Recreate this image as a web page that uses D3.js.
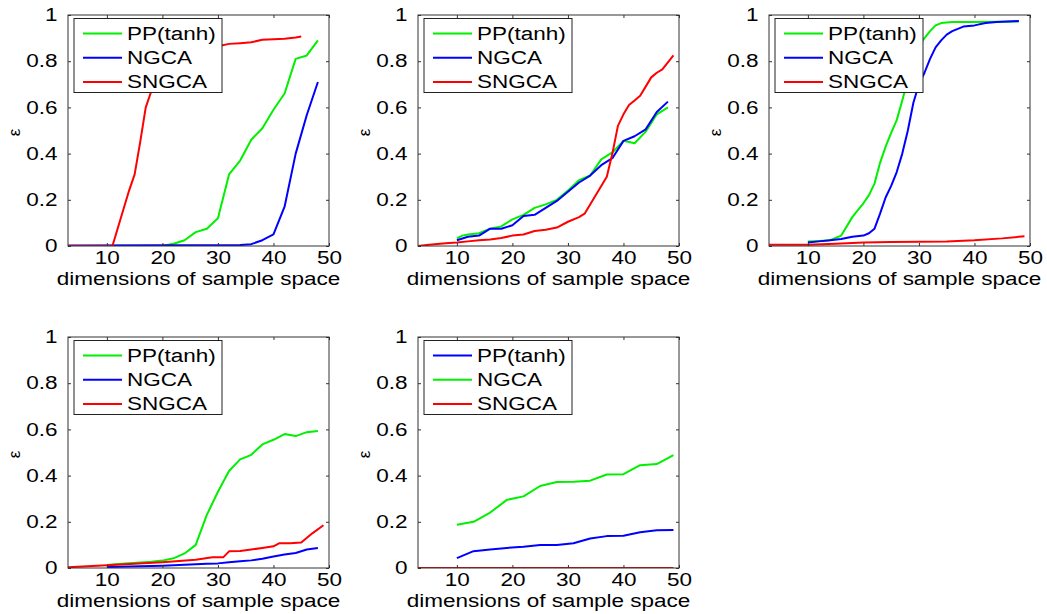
<!DOCTYPE html>
<html>
<head>
<meta charset="utf-8">
<script src="https://cdn.jsdelivr.net/npm/d3@7"></script>
<style>
  body { margin: 0; background: #fff; }
  text { font-family: "Liberation Sans", Arial, sans-serif; fill: #000; }
</style>
</head>
<body>
<script>
const xTicks = [10, 20, 30, 40, 50];
const yTicks = [0, 0.2, 0.4, 0.6, 0.8, 1];
const legendLabels = ["PP(tanh)", "NGCA", "SNGCA"];
const xLabel = "dimensions of sample space";
const yLabel = "ε";

// panel 1 (top left)
const p1PP = [[3, 0], [20, 0], [22, 0.01], [24, 0.025], [26, 0.06], [28, 0.075], [30, 0.12], [32, 0.31], [34, 0.37], [36, 0.46], [38, 0.51], [40, 0.59], [42, 0.66], [44, 0.81], [46, 0.825], [48, 0.89]];
const p1NGCA = [[3, 0.002], [34, 0.004], [36, 0.008], [38, 0.025], [40, 0.05], [42, 0.17], [44, 0.4], [46, 0.567], [48, 0.71]];
const p1SNGCA = [[3, 0], [11, 0], [12, 0.08], [13, 0.16], [14, 0.24], [15, 0.31], [16, 0.45], [17, 0.6], [18, 0.67], [19, 0.73], [20, 0.78], [21, 0.82], [22, 0.84], [24, 0.85], [26, 0.855], [28, 0.86], [30, 0.865], [32, 0.875], [34, 0.878], [36, 0.882], [38, 0.893], [40, 0.895], [42, 0.897], [44, 0.903], [45, 0.907]];

// panel 2 (top middle)
const p2PP = [[10, 0.033], [11, 0.045], [12, 0.05], [14, 0.055], [16, 0.075], [18, 0.085], [20, 0.115], [22, 0.135], [24, 0.165], [26, 0.18], [28, 0.2], [30, 0.24], [32, 0.285], [34, 0.305], [36, 0.375], [38, 0.405], [40, 0.455], [41, 0.45], [42, 0.445], [44, 0.495], [46, 0.57], [48, 0.6]];
const p2NGCA = [[10, 0.025], [12, 0.04], [14, 0.045], [16, 0.075], [18, 0.075], [20, 0.09], [22, 0.13], [24, 0.135], [26, 0.165], [28, 0.195], [30, 0.235], [32, 0.275], [34, 0.305], [36, 0.35], [38, 0.38], [40, 0.455], [42, 0.475], [44, 0.505], [46, 0.58], [48, 0.625]];
const p2SNGCA = [[3, 0], [5, 0.005], [8, 0.012], [10, 0.015], [12, 0.02], [14, 0.025], [16, 0.028], [18, 0.035], [20, 0.045], [22, 0.05], [24, 0.065], [26, 0.07], [28, 0.08], [30, 0.105], [32, 0.125], [33, 0.14], [35, 0.22], [37, 0.3], [38, 0.4], [39, 0.52], [40, 0.57], [41, 0.61], [42, 0.63], [43, 0.65], [44, 0.69], [45, 0.73], [46, 0.75], [47, 0.765], [48, 0.795], [49, 0.825]];

// panel 3 (top right)
const p3PP = [[10, 0.02], [12, 0.022], [14, 0.025], [16, 0.045], [17, 0.085], [18, 0.125], [19, 0.155], [20, 0.185], [21, 0.22], [22, 0.27], [23, 0.36], [24, 0.43], [25, 0.49], [26, 0.545], [27, 0.63], [28, 0.72], [29, 0.81], [30, 0.87], [31, 0.9], [32, 0.93], [33, 0.955], [34, 0.965], [35, 0.968], [36, 0.97], [40, 0.97], [44, 0.971], [48, 0.972]];
const p3NGCA = [[10, 0.015], [12, 0.02], [14, 0.025], [16, 0.03], [18, 0.04], [20, 0.045], [21, 0.055], [22, 0.075], [23, 0.14], [24, 0.21], [25, 0.26], [26, 0.32], [27, 0.4], [28, 0.5], [29, 0.62], [30, 0.7], [31, 0.75], [32, 0.81], [33, 0.86], [34, 0.89], [35, 0.915], [36, 0.93], [38, 0.95], [40, 0.955], [42, 0.965], [44, 0.97], [46, 0.972], [48, 0.974]];
const p3SNGCA = [[3, 0.005], [10, 0.005], [15, 0.01], [20, 0.015], [25, 0.017], [30, 0.018], [35, 0.02], [40, 0.025], [45, 0.033], [49, 0.042]];

// panel 4 (bottom left)
const p4PP = [[10, 0.013], [12, 0.017], [14, 0.021], [16, 0.024], [18, 0.027], [20, 0.032], [22, 0.042], [24, 0.063], [26, 0.1], [28, 0.23], [30, 0.33], [32, 0.42], [34, 0.47], [36, 0.49], [38, 0.535], [40, 0.555], [42, 0.58], [44, 0.571], [46, 0.588], [48, 0.593]];
const p4NGCA = [[10, 0.004], [14, 0.006], [20, 0.01], [24, 0.014], [28, 0.018], [30, 0.02], [32, 0.025], [34, 0.029], [36, 0.033], [38, 0.04], [40, 0.05], [42, 0.058], [44, 0.065], [46, 0.08], [48, 0.087]];
const p4SNGCA = [[3, 0.003], [10, 0.012], [20, 0.025], [26, 0.036], [29, 0.047], [31, 0.047], [32, 0.072], [34, 0.074], [36, 0.08], [38, 0.087], [40, 0.094], [41, 0.107], [43, 0.107], [45, 0.11], [47, 0.15], [49, 0.185]];

// panel 5 (bottom middle)
const p5PP = [[10, 0.043], [13, 0.073], [16, 0.08], [19, 0.087], [22, 0.092], [25, 0.1], [28, 0.1], [31, 0.107], [34, 0.128], [37, 0.138], [40, 0.14], [43, 0.155], [46, 0.163], [49, 0.165]];
const p5NGCA = [[10, 0.187], [13, 0.2], [16, 0.24], [19, 0.295], [22, 0.31], [25, 0.355], [28, 0.372], [31, 0.373], [34, 0.378], [37, 0.405], [40, 0.406], [43, 0.445], [46, 0.45], [49, 0.489]];
const p5SNGCA = [[3, 0], [49, 0]];

const green = "#00f000", blue = "#0000ff", red = "#ff0000";

const width = 1047;
const height = 614;
const plotW = 261;
const plotH = 231;
const colX = [68, 418, 769];
const rowY = [15, 337];
const fontSize = 18;
const sx = 1.25; // the picture is a little stretched sideways

const panels = [
  { col: 0, row: 0, series: [p1PP, p1NGCA, p1SNGCA], colors: [green, blue, red] },
  { col: 1, row: 0, series: [p2PP, p2NGCA, p2SNGCA], colors: [green, blue, red] },
  { col: 2, row: 0, series: [p3PP, p3NGCA, p3SNGCA], colors: [green, blue, red] },
  { col: 0, row: 1, series: [p4PP, p4NGCA, p4SNGCA], colors: [green, blue, red] },
  { col: 1, row: 1, series: [p5PP, p5NGCA, p5SNGCA], colors: [blue, green, red] },
];

const svg = d3.select("body").append("svg")
  .attr("width", width)
  .attr("height", height);

const x = d3.scaleLinear().domain([3, 50]).range([0, plotW]);
const y = d3.scaleLinear().domain([0, 1]).range([plotH, 0]);

const line = d3.line()
  .x((d) => x(d[0]))
  .y((d) => y(d[1]));

panels.forEach((p, i) => {
  const g = svg.append("g")
    .attr("transform", `translate(${colX[p.col]},${rowY[p.row]})`);

  g.append("clipPath").attr("id", `clip${i}`)
    .append("rect").attr("width", plotW).attr("height", plotH);

  g.append("g").attr("clip-path", `url(#clip${i})`)
    .selectAll("path")
    .data(p.series)
    .join("path")
    .attr("d", line)
    .attr("fill", "none")
    .attr("stroke", (d, j) => p.colors[j])
    .attr("stroke-width", 2)
    .attr("stroke-linejoin", "round");

  // axes with inward ticks on all four sides
  const bottom = g.append("g")
    .attr("transform", `translate(0,${plotH})`)
    .call(d3.axisBottom(x).tickValues(xTicks).tickSizeInner(-3).tickSizeOuter(0).tickPadding(5));
  const left = g.append("g")
    .call(d3.axisLeft(y).tickValues(yTicks).tickSizeInner(-3).tickSizeOuter(0).tickPadding(8.3)
      .tickFormat(d3.format("~g")));
  g.append("g")
    .call(d3.axisTop(x).tickValues(xTicks).tickSizeInner(-3).tickSizeOuter(0).tickFormat(""));
  g.append("g")
    .attr("transform", `translate(${plotW},0)`)
    .call(d3.axisRight(y).tickValues(yTicks).tickSizeInner(-3).tickSizeOuter(0).tickFormat(""));

  g.selectAll(".domain").remove();
  g.selectAll(".tick line").attr("stroke", "#333");

  [bottom, left].forEach((a) =>
    a.selectAll("text")
      .attr("font-size", fontSize)
      .attr("font-family", null)
      .attr("transform", `scale(${sx},1)`)
  );

  g.append("rect")
    .attr("width", plotW).attr("height", plotH)
    .attr("fill", "none")
    .attr("stroke", "#333")
    .attr("stroke-width", 1);

  // legend
  const lg = g.append("g").attr("transform", "translate(6,3.5)");
  lg.append("rect")
    .attr("width", 148).attr("height", 74)
    .attr("fill", "#fff")
    .attr("stroke", "#222");
  legendLabels.forEach((name, j) => {
    const ly = 15 + j * 24.2;
    lg.append("line")
      .attr("x1", 9).attr("x2", 48)
      .attr("y1", ly).attr("y2", ly)
      .attr("stroke", p.colors[j])
      .attr("stroke-width", 2);
    lg.append("text")
      .attr("transform", `translate(53,${ly}) scale(${sx},1)`)
      .attr("dy", "0.36em")
      .attr("font-size", fontSize)
      .text(name);
  });

  g.append("text")
    .attr("transform", `translate(${plotW / 2},${plotH + 39}) scale(${sx},1)`)
    .attr("text-anchor", "middle")
    .attr("font-size", fontSize)
    .text(xLabel);

  g.append("text")
    .attr("transform", `translate(-54,${plotH / 2 + 2}) rotate(-90)`)
    .attr("text-anchor", "middle")
    .attr("dy", "0.35em")
    .attr("font-size", 17)
    .text(yLabel);
});
</script>
</body>
</html>
